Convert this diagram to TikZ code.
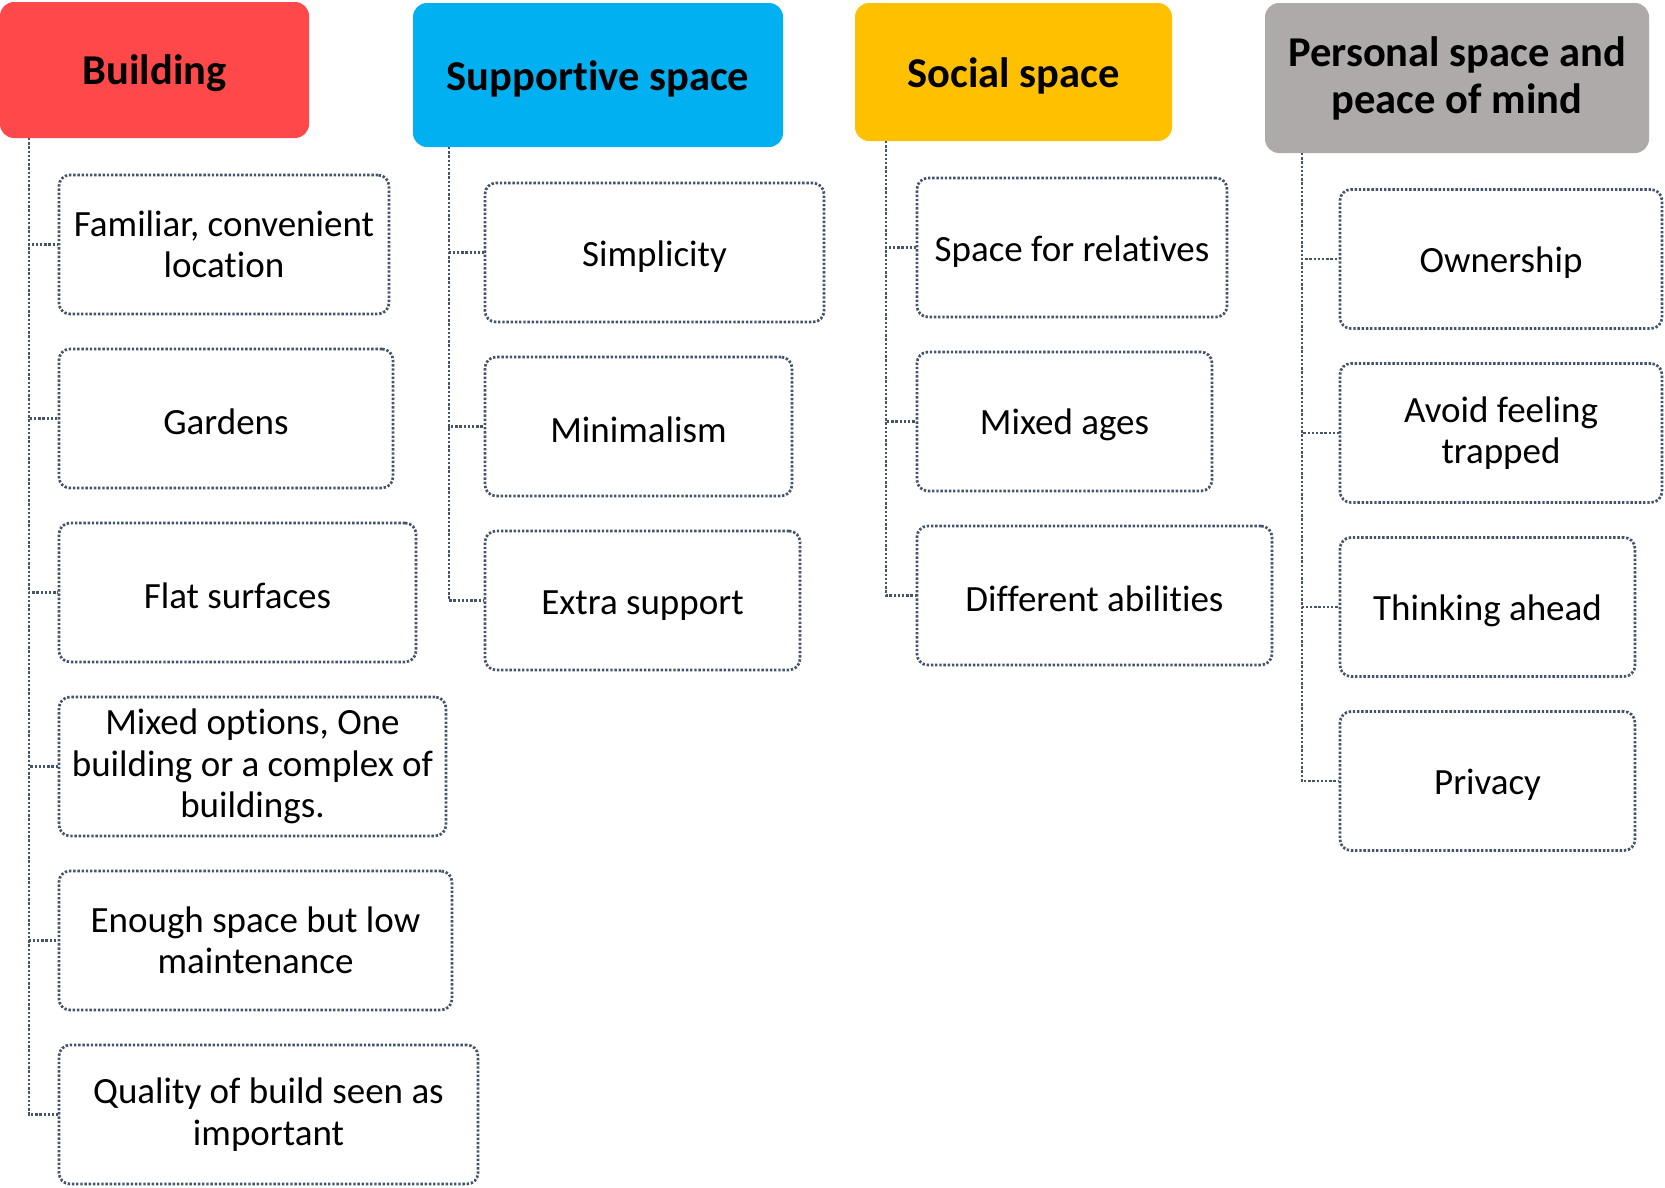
\documentclass[tikz,border=0pt]{standalone}
\usepackage{fontspec}
\setmainfont{Carlito}[Ligatures=NoCommon]
\definecolor{lineC}{HTML}{44546A}
\definecolor{redH}{HTML}{FF4849}
\definecolor{blueH}{HTML}{00B0F0}
\definecolor{yellowH}{HTML}{FFC000}
\definecolor{grayH}{HTML}{AEAAAA}
\newcommand\bodyfnt{\fontsize{37}{41.5}\selectfont}
\newcommand\headfnt{\fontsize{42.5}{47}\selectfont\bfseries}
\begin{document}
\begin{tikzpicture}[x=1pt,y=-1pt,
  dots/.style={draw=lineC, line width=2.7pt, dash pattern=on 2.4pt off 1.8pt},
  itembox/.style={dots, rounded corners=11pt, align=center, inner sep=0pt,
    minimum height=139pt, font=\bodyfnt, text=black,
    execute at begin node={\rule{0pt}{33pt}}},
  hdrbox/.style={rounded corners=14pt, align=center, inner sep=0pt, font=\headfnt, text=black,
    execute at begin node={\rule{0pt}{37pt}}},
  link/.style={dots}]
\useasboundingbox (0,0) rectangle (1665,1187);

% headers
\node[hdrbox, fill=redH, minimum width=309pt, minimum height=136pt] (H1) at (154.5,70) {Building};
\node[hdrbox, fill=blueH, minimum width=370pt, minimum height=144pt] (H2) at (598,75) {Supportive space};
\node[hdrbox, fill=yellowH, minimum width=317pt, minimum height=138pt] (H3) at (1013.5,72) {Social space};
\node[hdrbox, fill=grayH, minimum width=384pt, minimum height=150pt] (H4) at (1457,78) {Personal space and\\peace of mind};

% trunk start points
\coordinate (T1) at (29,138);
\coordinate (T2) at (449,147);
\coordinate (T3) at (886,141);
\coordinate (T4) at (1302,153);

% Building items
\node[itembox, minimum width=330pt] (b1) at (224,244.5) {Familiar, convenient\\location};
\node[itembox, minimum width=334pt] (b2) at (226,418.5) {Gardens};
\node[itembox, minimum width=357pt] (b3) at (237.5,592.5) {Flat surfaces};
\node[itembox, minimum width=387pt] (b4) at (252.5,766.5) {Mixed options, One\\building or a complex of\\buildings.};
\node[itembox, minimum width=393pt] (b5) at (255.5,940.5) {Enough space but low\\maintenance};
\node[itembox, minimum width=419pt] (b6) at (268.5,1114.5) {Quality of build seen as\\important};

% Supportive items
\node[itembox, minimum width=339pt] (s1) at (654.5,252.5) {Simplicity};
\node[itembox, minimum width=307pt] (s2) at (638.5,426.5) {Minimalism};
\node[itembox, minimum width=315pt] (s3) at (642.5,600.5) {Extra support};

% Social items
\node[itembox, minimum width=310pt] (c1) at (1072,247.5) {Space for relatives};
\node[itembox, minimum width=295pt] (c2) at (1064.5,421.5) {Mixed ages};
\node[itembox, minimum width=355pt] (c3) at (1094.5,595.5) {Different abilities};

% Personal items
\node[itembox, minimum width=322pt] (p1) at (1501,259) {Ownership};
\node[itembox, minimum width=322pt] (p2) at (1501,433) {Avoid feeling\\trapped};
\node[itembox, minimum width=295pt] (p3) at (1487.5,607) {Thinking ahead};
\node[itembox, minimum width=295pt] (p4) at (1487.5,781) {Privacy};

% connectors
\foreach \c in {b1,b2,b3,b4,b5,b6} \draw[link] (T1) |- (\c.west);
\foreach \c in {s1,s2,s3} \draw[link] (T2) |- (\c.west);
\foreach \c in {c1,c2,c3} \draw[link] (T3) |- (\c.west);
\foreach \c in {p1,p2,p3,p4} \draw[link] (T4) |- (\c.west);
\end{tikzpicture}
\end{document}
